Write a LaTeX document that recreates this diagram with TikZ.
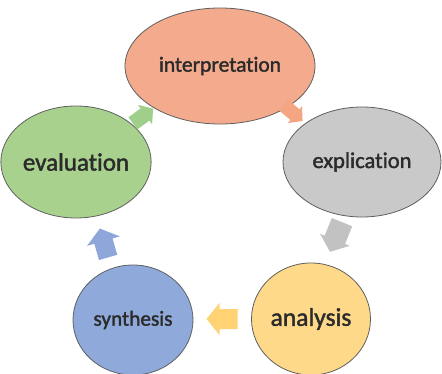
\documentclass[tikz,border=0pt]{standalone}
\usepackage{fontspec}
\setmainfont{Carlito}[Ligatures={NoCommon,NoRequired,NoContextual}, FakeBold=1.6]
\usetikzlibrary{shapes.geometric}
\definecolor{cInt}{HTML}{F4AA8C}
\definecolor{cExp}{HTML}{C9C9C9}
\definecolor{cAna}{HTML}{FFD98A}
\definecolor{cSyn}{HTML}{8FA9DB}
\definecolor{cEva}{HTML}{A9D18E}
\definecolor{aInt}{HTML}{F4A582}
\definecolor{aExp}{HTML}{C2C2C2}
\definecolor{aAna}{HTML}{FFD273}
\definecolor{aSyn}{HTML}{8EA6DA}
\definecolor{aEva}{HTML}{9FCF8A}
\definecolor{bordergray}{HTML}{5F5F5F}
\definecolor{textdark}{HTML}{2B2B2B}
% block arrow: #1 centre, #2 angle, #3 length, #4 head width, #5 shaft width, #6 head length, #7 colour
\newcommand{\blockarr}[7]{%
  \begin{scope}[shift={#1}, x=1pt, y=1pt, rotate=#2]
    \fill[#7] (-#3/2, -#5/2) -- (#3/2-#6, -#5/2) -- (#3/2-#6, -#4/2) -- (#3/2, 0)
      -- (#3/2-#6, #4/2) -- (#3/2-#6, #5/2) -- (-#3/2, #5/2) -- cycle;
  \end{scope}}
\begin{document}
\begin{tikzpicture}[x=1pt,y=-1pt,
  cyc/.style={ellipse, draw=bordergray, line width=0.8pt, inner sep=0pt, text=textdark}]
\useasboundingbox (0,0) rectangle (442,374);
\fill[white] (0,0) rectangle (442,374);
% cycle nodes
\node[cyc, fill=cInt, minimum width=190pt, minimum height=116pt,
      font=\fontsize{21.5}{24}\selectfont] (interp) at (220,66) {interpretation};
\node[cyc, fill=cExp, minimum width=158pt, minimum height=110pt,
      font=\fontsize{22.5}{25}\selectfont] (explic) at (362,162) {explication};
\node[cyc, fill=cAna, minimum width=119pt, minimum height=112pt,
      font=\fontsize{25.5}{28}\selectfont] (anal) at (311,319) {analysis};
\node[cyc, fill=cSyn, minimum width=120pt, minimum height=110pt,
      font=\fontsize{21.3}{24}\selectfont] (synth) at (133,320) {synthesis};
\node[cyc, fill=cEva, minimum width=142pt, minimum height=112pt,
      font=\fontsize{25}{28}\selectfont] (evalu) at (76,162) {evaluation};
% block arrows
\blockarr{(143,116)}{36}{25}{24}{15}{10}{aEva}
\blockarr{(293,113)}{-40}{25}{22}{14}{10}{aInt}
\blockarr{(336,237)}{-112}{32}{32}{22}{13}{aExp}
\blockarr{(222,319)}{180}{31}{32}{20}{13}{aAna}
\blockarr{(104,243)}{106}{30}{34}{19}{13}{aSyn}
\end{tikzpicture}
\end{document}
